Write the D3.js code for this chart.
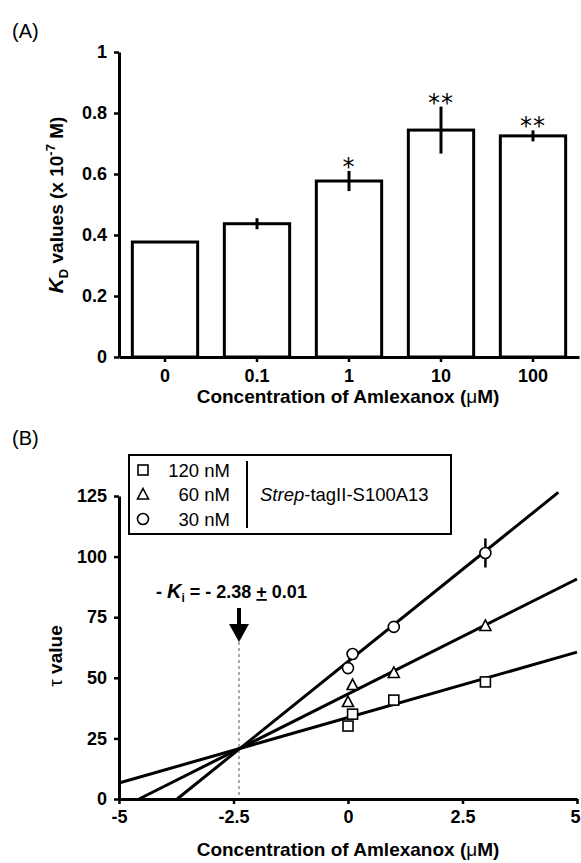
<!DOCTYPE html>
<html>
<head>
<meta charset="utf-8">
<script src="https://cdn.jsdelivr.net/npm/d3@7"></script>
<style>
  body { margin: 0; background: #fff; }
  text { font-family: "Liberation Sans", Arial, sans-serif; fill: #000; }
</style>
</head>
<body>
<div id="chart"></div>
<script>
// panel A data
let concLabels = ['0', '0.1', '1', '10', '100']
let kdValues = [0.377, 0.437, 0.577, 0.744, 0.725]
let kdErrors = [0, 0.018, 0.033, 0.077, 0.018]
let kdStars = ['', '', '*', '**', '**']
let kdTicks = [0, 0.2, 0.4, 0.6, 0.8, 1]

// panel B data
let amlexX = [0, 0.1, 1, 3]
let tau120 = [30.1, 35, 40.8, 48.3]
let tau60 = [40, 47, 52, 71.4]
let tau30 = [54, 59.8, 71, 101.5]
let tau30Err = [0, 0, 0, 6]
let lineIntercepts = [33.6, 43.3, 56.7]
let lineSlopes = [5.4, 9.49, 15.2]
let seriesNames = ['120 nM', '60 nM', '30 nM']
let seriesShapes = ['square', 'triangle', 'circle']
let kiValue = -2.38
let xTicksB = [-5, -2.5, 0, 2.5, 5]
let yTicksB = [0, 25, 50, 75, 100, 125]

let width = 581, height = 863

let svg = d3.select('#chart').append('svg')
  .attr('width', width)
  .attr('height', height)

function styleAxis(g) {
  g.select('.domain').attr('stroke-width', 3).attr('stroke', '#000')
  g.selectAll('.tick line').attr('stroke-width', 2.5).attr('stroke', '#000')
  g.selectAll('.tick text')
    .attr('font-size', 18)
    .attr('font-weight', 'bold')
    .attr('font-family', '"Liberation Sans", Arial, sans-serif')
}

// ---------- panel A ----------
let xA = d3.scaleBand()
  .domain(concLabels)
  .range([119, 579])
  .paddingInner(0.29)
  .paddingOuter(0.145)

let yA = d3.scaleLinear().domain([0, 1]).range([357, 52])

let gA = svg.append('g')

gA.append('text').attr('x', 12).attr('y', 38).attr('font-size', 20).text('(A)')

gA.selectAll('rect.bar')
  .data(concLabels)
  .enter()
  .append('rect')
  .attr('class', 'bar')
  .attr('x', d => xA(d))
  .attr('y', (d, i) => yA(kdValues[i]))
  .attr('width', xA.bandwidth())
  .attr('height', (d, i) => yA(0) - yA(kdValues[i]))
  .attr('fill', '#fff')
  .attr('stroke', '#000')
  .attr('stroke-width', 3)

gA.selectAll('line.err')
  .data(concLabels.filter((d, i) => kdErrors[i] > 0))
  .enter()
  .append('line')
  .attr('class', 'err')
  .attr('x1', d => xA(d) + xA.bandwidth() / 2)
  .attr('x2', d => xA(d) + xA.bandwidth() / 2)
  .attr('y1', d => yA(kdValues[concLabels.indexOf(d)] + kdErrors[concLabels.indexOf(d)]))
  .attr('y2', d => yA(kdValues[concLabels.indexOf(d)] - kdErrors[concLabels.indexOf(d)]))
  .attr('stroke', '#000')
  .attr('stroke-width', 3)

gA.selectAll('text.star')
  .data(concLabels)
  .enter()
  .append('text')
  .attr('class', 'star')
  .attr('x', d => xA(d) + xA.bandwidth() / 2)
  .attr('y', (d, i) => yA(kdValues[i] + kdErrors[i]) + 4)
  .attr('text-anchor', 'middle')
  .attr('font-size', 24)
  .attr('letter-spacing', 1)
  .style('font-family', '"DejaVu Sans", sans-serif')
  .text((d, i) => kdStars[i])

gA.append('g')
  .attr('transform', 'translate(0,' + yA(0) + ')')
  .call(d3.axisBottom(xA).tickSize(5).tickSizeOuter(0).tickPadding(7))
  .call(styleAxis)

gA.append('g')
  .attr('transform', 'translate(119,0)')
  .call(d3.axisLeft(yA).tickValues(kdTicks).tickSize(5).tickSizeOuter(0).tickPadding(7)
    .tickFormat(d => d === 0 ? '0' : d === 1 ? '1' : d3.format('.1f')(d)))
  .call(styleAxis)

let titleA = gA.append('text')
  .attr('x', 348).attr('y', 403)
  .attr('text-anchor', 'middle')
  .attr('font-size', 19).attr('font-weight', 'bold')
titleA.append('tspan').text('Concentration of Amlexanox (')
titleA.append('tspan').attr('font-weight', 'normal').text('μ')
titleA.append('tspan').text('M)')

let yLabA = gA.append('text')
  .attr('transform', 'translate(63,205) rotate(-90)')
  .attr('text-anchor', 'middle')
  .attr('font-size', 19).attr('font-weight', 'bold')
yLabA.append('tspan').attr('font-style', 'italic').attr('font-size', 21).text('K')
yLabA.append('tspan').attr('font-size', 13).attr('dy', 5).text('D')
yLabA.append('tspan').attr('dy', -5).text(' values (x 10')
yLabA.append('tspan').attr('font-size', 13).attr('dy', -8).text('-7')
yLabA.append('tspan').attr('dy', 8).text(' M)')

// ---------- panel B ----------
let xB = d3.scaleLinear().domain([-5, 5]).range([119, 577])
let yB = d3.scaleLinear().domain([0, 125]).range([799, 496])

let gB = svg.append('g')

gB.append('text').attr('x', 12).attr('y', 445).attr('font-size', 20).text('(B)')

// fitted lines, clipped to the visible y range
let yTop = 126.5
gB.selectAll('line.fit')
  .data(lineSlopes)
  .enter()
  .append('line')
  .attr('class', 'fit')
  .attr('x1', (b, i) => xB(Math.max(-5, (0 - lineIntercepts[i]) / b)))
  .attr('y1', (b, i) => yB(lineIntercepts[i] + b * Math.max(-5, (0 - lineIntercepts[i]) / b)))
  .attr('x2', (b, i) => xB(Math.min(5, (yTop - lineIntercepts[i]) / b)))
  .attr('y2', (b, i) => yB(lineIntercepts[i] + b * Math.min(5, (yTop - lineIntercepts[i]) / b)))
  .attr('stroke', '#000')
  .attr('stroke-width', 3)

// Ki marker
gB.append('line')
  .attr('x1', xB(kiValue)).attr('x2', xB(kiValue))
  .attr('y1', 642).attr('y2', yB(0))
  .attr('stroke', '#555').attr('stroke-width', 1)
  .attr('stroke-dasharray', '3,3')

gB.append('line')
  .attr('x1', xB(kiValue)).attr('x2', xB(kiValue))
  .attr('y1', 608).attr('y2', 628)
  .attr('stroke', '#000').attr('stroke-width', 4)
gB.append('path')
  .attr('d', 'M' + (xB(kiValue) - 10) + ',624 L' + (xB(kiValue) + 10) + ',624 L' + xB(kiValue) + ',642 Z')
  .attr('fill', '#000')

let kiText = gB.append('text')
  .attr('x', 156).attr('y', 598)
  .attr('font-size', 18).attr('font-weight', 'bold')
kiText.append('tspan').text('- ')
kiText.append('tspan').attr('font-style', 'italic').attr('font-size', 20).text('K')
kiText.append('tspan').attr('font-size', 12).attr('dy', 4).text('i')
kiText.append('tspan').attr('dy', -4).text(' = - 2.38 ')
kiText.append('tspan').attr('text-decoration', 'underline').text('+')
kiText.append('tspan').text(' 0.01')

function drawMarker(sel, shape) {
  let s = 5
  if (shape === 'square') {
    sel.append('rect').attr('x', -s).attr('y', -s).attr('width', 2 * s).attr('height', 2 * s)
  } else if (shape === 'triangle') {
    sel.append('path').attr('d', 'M0,' + (-s - 1) + ' L' + (s + 0.5) + ',' + (s - 0.5) + ' L' + (-s - 0.5) + ',' + (s - 0.5) + ' Z')
  } else {
    sel.append('circle').attr('r', s + 0.5)
  }
  sel.selectAll('*').attr('fill', '#fff').attr('stroke', '#000').attr('stroke-width', 1.6)
}

// error bars for 30 nM
gB.selectAll('line.errB')
  .data(amlexX.filter((d, i) => tau30Err[i] > 0))
  .enter()
  .append('line')
  .attr('class', 'errB')
  .attr('x1', d => xB(d)).attr('x2', d => xB(d))
  .attr('y1', d => yB(tau30[amlexX.indexOf(d)] + tau30Err[amlexX.indexOf(d)]))
  .attr('y2', d => yB(tau30[amlexX.indexOf(d)] - tau30Err[amlexX.indexOf(d)]))
  .attr('stroke', '#000').attr('stroke-width', 2.5)

let seriesData = [tau120, tau60, tau30]
seriesData.forEach((vals, si) => {
  gB.selectAll('g.pt' + si)
    .data(amlexX)
    .enter()
    .append('g')
    .attr('class', 'pt' + si)
    .attr('transform', (d, i) => 'translate(' + xB(d) + ',' + yB(vals[i]) + ')')
    .each(function() { drawMarker(d3.select(this), seriesShapes[si]) })
})

// axes
let xAxisB = gB.append('g')
  .attr('transform', 'translate(0,' + yB(0) + ')')
  .call(d3.axisBottom(xB).tickValues(xTicksB).tickSize(5).tickSizeOuter(0).tickPadding(6)
    .tickFormat(d => String(d)))
  .call(styleAxis)
// last label sits at the page edge; nudge it in a little
xAxisB.selectAll('.tick text').filter(d => d === 5).attr('dx', -2)

gB.append('g')
  .attr('transform', 'translate(' + xB(-5) + ',0)')
  .call(d3.axisLeft(yB).tickValues(yTicksB).tickSize(5).tickSizeOuter(0).tickPadding(7))
  .call(styleAxis)

let titleB = gB.append('text')
  .attr('x', 348).attr('y', 856)
  .attr('text-anchor', 'middle')
  .attr('font-size', 19).attr('font-weight', 'bold')
titleB.append('tspan').text('Concentration of Amlexanox (')
titleB.append('tspan').attr('font-weight', 'normal').text('μ')
titleB.append('tspan').text('M)')

let yLabB = gB.append('text')
  .attr('transform', 'translate(62,656) rotate(-90)')
  .attr('text-anchor', 'middle')
  .attr('font-size', 19).attr('font-weight', 'bold')
yLabB.append('tspan').attr('font-weight', 'normal').text('τ')
yLabB.append('tspan').text(' value')

// legend
let legend = gB.append('g')
legend.append('rect')
  .attr('x', 129).attr('y', 455).attr('width', 322).attr('height', 79)
  .attr('fill', '#fff').attr('stroke', '#000').attr('stroke-width', 2)
let legRows = [470, 494.5, 519]
seriesNames.forEach((name, i) => {
  let row = legend.append('g').attr('transform', 'translate(143,' + legRows[i] + ')')
  drawMarker(row, seriesShapes[i])
  legend.append('text')
    .attr('x', 230).attr('y', legRows[i] + 6.5)
    .attr('text-anchor', 'end')
    .attr('font-size', 18.5)
    .text(name)
})
legend.append('line')
  .attr('x1', 247).attr('x2', 247).attr('y1', 461).attr('y2', 528)
  .attr('stroke', '#000').attr('stroke-width', 2)
let strep = legend.append('text')
  .attr('x', 260).attr('y', 501)
  .attr('font-size', 18.5)
strep.append('tspan').attr('font-style', 'italic').text('Strep')
strep.append('tspan').text('-tagII-S100A13')
</script>
</body>
</html>
